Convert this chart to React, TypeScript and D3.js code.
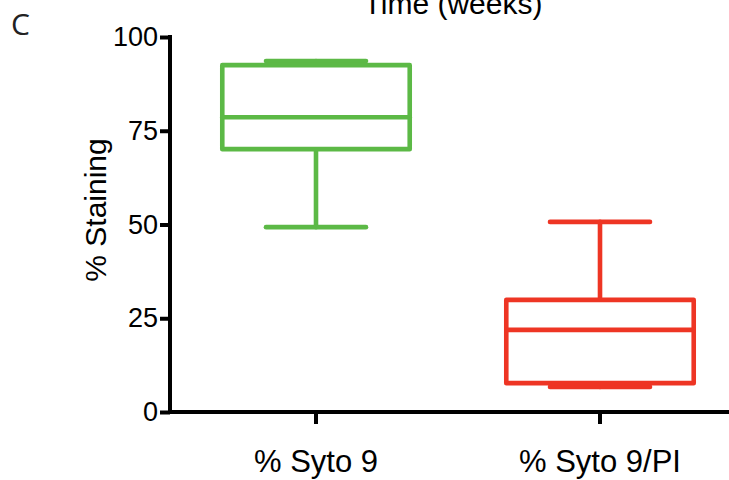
import { useEffect, useRef } from 'react';
import * as d3 from 'd3';

const categories = ['% Syto 9', '% Syto 9/PI'];
const mins = [49.3, 6.7];
const q1s = [70.1, 7.7];
const medians = [78.6, 21.9];
const q3s = [92.5, 29.9];
const maxs = [93.6, 50.7];
const colors = ['#5cb946', '#ee3524'];
const yTicks = [0, 25, 50, 75, 100];

export default function App() {
  const svgRef = useRef<SVGSVGElement>(null);

  useEffect(() => {
    if (!svgRef.current) return;
    const svg = d3.select(svgRef.current);
    svg.selectAll('*').remove();

    const font = '"Liberation Sans", Arial, sans-serif';
    const axisLeftX = 170;
    const axisBottomY = 412;

    const y = d3.scaleLinear().domain([0, 100]).range([axisBottomY, 37]);
    const x = d3.scaleBand().domain(categories).range([174, 742]).padding(0);
    const boxW = x.bandwidth() * 0.66;
    const capW = 100;

    // Boxes
    categories.forEach((c, i) => {
      const cx = (x(c) || 0) + x.bandwidth() / 2;
      const g = svg.append('g')
        .attr('stroke', colors[i])
        .attr('stroke-width', 4.6)
        .attr('fill', 'none')
        .attr('stroke-linecap', 'round')
        .attr('stroke-linejoin', 'round');

      // whiskers
      g.append('line').attr('x1', cx).attr('x2', cx).attr('y1', y(q3s[i])).attr('y2', y(maxs[i]));
      g.append('line').attr('x1', cx).attr('x2', cx).attr('y1', y(q1s[i])).attr('y2', y(mins[i]));
      g.append('line').attr('x1', cx - capW / 2).attr('x2', cx + capW / 2).attr('y1', y(maxs[i])).attr('y2', y(maxs[i]));
      g.append('line').attr('x1', cx - capW / 2).attr('x2', cx + capW / 2).attr('y1', y(mins[i])).attr('y2', y(mins[i]));

      // box
      g.append('rect')
        .attr('x', cx - boxW / 2)
        .attr('width', boxW)
        .attr('y', y(q3s[i]))
        .attr('height', y(q1s[i]) - y(q3s[i]))
        .attr('fill', '#fff');
      g.append('line').attr('x1', cx - boxW / 2).attr('x2', cx + boxW / 2).attr('y1', y(medians[i])).attr('y2', y(medians[i]));
    });

    // Y axis
    const yAxis = svg.append('g')
      .attr('transform', `translate(${axisLeftX},0)`)
      .call(d3.axisLeft(y).tickValues(yTicks).tickSize(10).tickSizeOuter(0).tickPadding(2));
    yAxis.select('.domain').remove();
    yAxis.selectAll('line').attr('stroke', '#000').attr('stroke-width', 4);
    yAxis.selectAll('text')
      .attr('fill', '#000')
      .style('font-family', font)
      .style('font-size', '27px');

    // X axis
    const xAxis = svg.append('g')
      .attr('transform', `translate(0,${axisBottomY})`)
      .call(d3.axisBottom(x).tickSize(12).tickSizeOuter(0));
    xAxis.select('.domain').remove();
    xAxis.selectAll('line').attr('stroke', '#000').attr('stroke-width', 4);
    xAxis.selectAll('text')
      .attr('fill', '#000')
      .attr('y', 60)
      .attr('dy', 0)
      .style('font-family', font)
      .style('font-size', '31px');

    // axis lines
    svg.append('line')
      .attr('x1', axisLeftX).attr('x2', axisLeftX)
      .attr('y1', y(100) - 2).attr('y2', axisBottomY + 2)
      .attr('stroke', '#000').attr('stroke-width', 4);
    svg.append('line')
      .attr('x1', axisLeftX - 2).attr('x2', 729)
      .attr('y1', axisBottomY).attr('y2', axisBottomY)
      .attr('stroke', '#000').attr('stroke-width', 4);

    // Y label
    svg.append('text')
      .attr('transform', `translate(106,210) rotate(-90)`)
      .attr('text-anchor', 'middle')
      .style('font-family', font)
      .style('font-size', '30px')
      .text('% Staining');

    // cropped title from panel above
    svg.append('text')
      .attr('x', 453)
      .attr('y', 14)
      .attr('text-anchor', 'middle')
      .style('font-family', font)
      .style('font-size', '30px')
      .text('Time (weeks)');

    // panel letter
    svg.append('text')
      .attr('x', 11)
      .attr('y', 35)
      .style('font-family', '"Open Sans", sans-serif')
      .style('font-size', '30px')
      .attr('fill', '#222')
      .text('C');
  }, []);

  return (
    <svg
      ref={svgRef}
      width={729}
      height={480}
      style={{ position: 'absolute', left: 0, top: 0, background: '#fff' }}
    />
  );
}
